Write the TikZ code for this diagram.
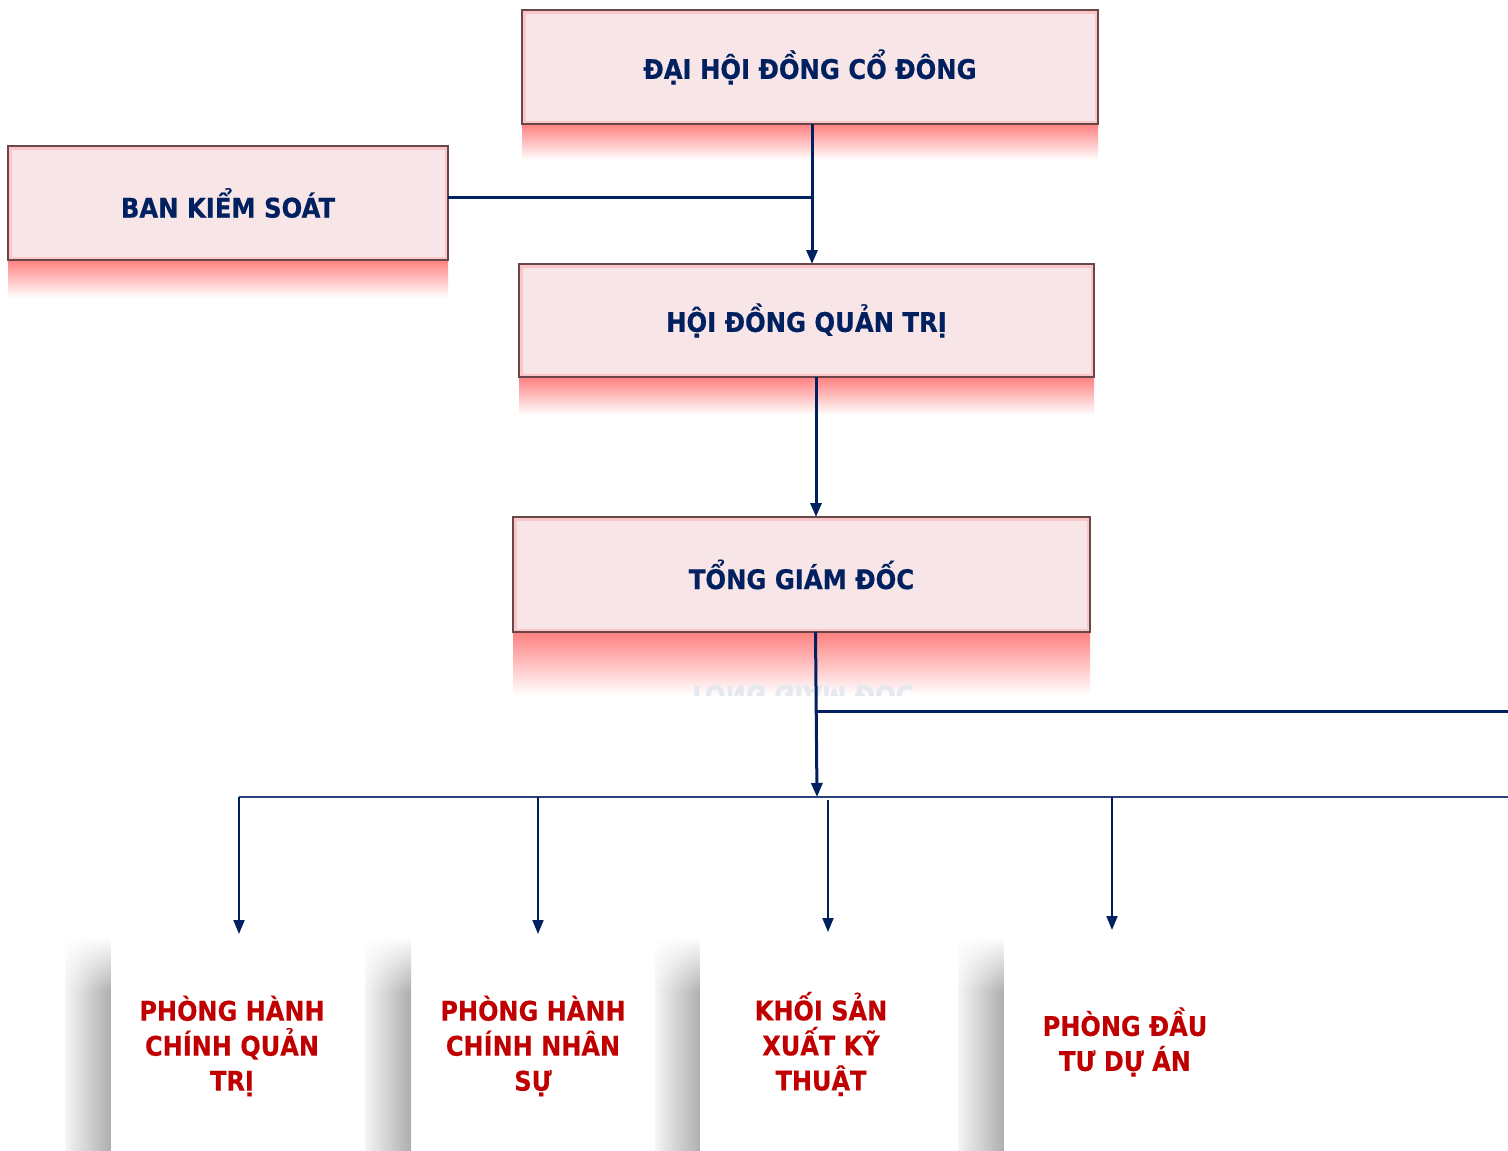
\documentclass[tikz,border=0pt]{standalone}
\usepackage{fontspec}
\setmainfont{DejaVu Sans}
\newfontfamily\unitfont[FakeStretch=0.9,FakeBold=0.6]{DejaVu Sans}
\newfontfamily\deptfont[FakeStretch=0.89,FakeBold=0.4]{DejaVu Sans}
\usetikzlibrary{arrows.meta}
\definecolor{cnavy}{RGB}{0,32,96}
\definecolor{cdept}{RGB}{192,0,0}
\definecolor{cpink}{RGB}{247,229,231}
\definecolor{cedge}{RGB}{105,70,72}
\definecolor{creflect}{RGB}{255,128,128}
\definecolor{cbus}{RGB}{45,65,125}

\begin{document}
\begin{tikzpicture}[x=1pt, y=-1pt,
  font=\unitfont\bfseries\fontsize{27}{32}\selectfont,
  unit/.style={draw=cedge, line width=1.2pt, fill=cpink, text=cnavy, inner sep=0pt, outer sep=0pt,
    path picture={\draw[red!40, line width=7pt, opacity=.4] (path picture bounding box.south west) rectangle (path picture bounding box.north east);}},
  mirror/.style={top color=creflect, bottom color=white, draw=none},
  dept/.style={fill=white, minimum width=242pt, minimum height=224pt, inner sep=0pt, outer sep=0pt, align=center, text=cdept,
    font=\deptfont\bfseries\fontsize{27}{35}\selectfont},
  shadow/.style={left color=black!4, right color=black!32, draw=none},
  ar/.style={-{Triangle[length=14pt,width=11pt]}, line width=3pt, cnavy},
  link/.style={line width=3pt, cnavy},
  bus/.style={line width=1.6pt, cbus},
  drop/.style={-{Triangle[length=14pt,width=11pt]}, line width=2pt, cnavy},
]
\useasboundingbox (0,0) rectangle (1508,1151);
\clip (0,0) rectangle (1508,1151);

% ---- reflections under the top boxes ----
\fill[mirror] (522,124) rectangle (1098,160);
\fill[mirror] (8,260) rectangle (448,298);
\fill[mirror] (519,377) rectangle (1094,415);
\fill[mirror] (513,632) rectangle (1090,695);
\begin{scope}
  \clip (513,632) rectangle (1090,695);
  \begin{scope}[shift={(801,700)}, yscale=-1]
    \node[transform shape, text=cnavy!10] (tgdmirror) at (0,0) {TỔNG GIÁM ĐỐC};
  \end{scope}
\end{scope}

% ---- top units ----
\node[unit, minimum width=576pt, minimum height=114pt] (dhdcd) at (810,67) {ĐẠI HỘI ĐỒNG CỔ ĐÔNG};
\node[unit, minimum width=440pt, minimum height=114pt] (bks) at (228,203) {BAN KIỂM SOÁT};
\node[unit, minimum width=575pt, minimum height=113pt] (hdqt) at (806.5,320.5) {HỘI ĐỒNG QUẢN TRỊ};
\node[unit, minimum width=577pt, minimum height=115pt] (tgd) at (801.5,574.5) {TỔNG GIÁM ĐỐC};

\coordinate (kj) at (812,197);
\draw[link] ([yshift=6pt]bks.east) -- (kj);
\draw[ar] ([xshift=2pt]dhdcd.south) -- ([xshift=5.5pt]hdqt.north);
\draw[ar] ([xshift=9.5pt]hdqt.south) -- ([xshift=14.5pt]tgd.north);

% ---- from the director down to the departments ----
\coordinate (bus) at (817,797);
\coordinate (tj) at (817,711);
\coordinate (eR) at (1508,711);
\coordinate (busL) at (239,797);
\coordinate (busR) at (1508,797);
\coordinate (b2) at (538,797);
\coordinate (b3) at (828,800);
\coordinate (b4) at (1112,797);
\draw[link] (tj) -- (eR);
\draw[bus] (busL) -- (busR);
\draw[ar] ([xshift=14pt]tgd.south) -- (bus);

% ---- departments (white cards with a soft shadow) ----
\foreach \sx in {65,365,655,958} {
  \fill[shadow] (\sx,936) rectangle (\sx+46,1151);
  \foreach \k [evaluate=\k as \op using 1-\k/28] in {0,...,27}
    \fill[white, opacity=\op] (\sx-1,{936+2*\k}) rectangle (\sx+47,{936+2*(\k+1)});
}
\node[dept] (d1) at (232,1046) {PHÒNG HÀNH\\CHÍNH QUẢN\\TRỊ};
\node[dept] (d2) at (533,1046) {PHÒNG HÀNH\\CHÍNH NHÂN\\SỰ};
\node[dept] (d3) at (821,1044) {KHỐI SẢN\\XUẤT KỸ\\THUẬT};
\node[dept] (d4) at (1125,1042) {PHÒNG ĐẦU\\TƯ DỰ ÁN};

\draw[drop] (busL) -- (busL |- d1.north);
\draw[drop] (b2) -- (b2 |- d2.north);
\draw[drop] (b3) -- (b3 |- d3.north);
\draw[drop] (b4) -- (b4 |- d4.north);
\end{tikzpicture}
\end{document}
